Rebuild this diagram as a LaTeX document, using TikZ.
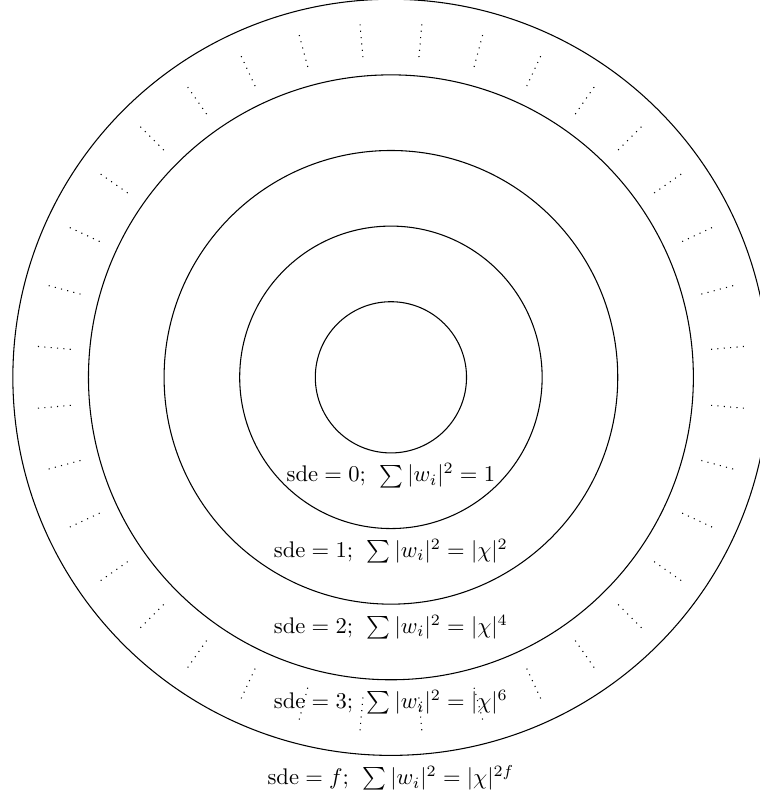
\documentclass[tikz,border=0pt]{standalone}
\usepackage{amsmath}
\usepackage{tikz}

\begin{document}
\begin{tikzpicture}[ring/.style={draw,line width=0.4pt},spoke/.style={dotted,line width=0.4pt},lbl/.style={inner sep=1pt,scale=0.85}]
\useasboundingbox (-5.17,-5.59) rectangle (4.88,4.99);
\foreach \r in {1,...,5} {
   \draw[ring] (0,0) circle (\r);
}
\foreach \a in {5,15,...,355} {
   \draw[spoke] (\a:4.25) -- (\a:4.7);
}
\foreach \y/\lv/\rhs in %
{1/0/1,2/1/|\chi|^2,3/2/|\chi|^4,4/3/|\chi|^6,5/f/|\chi|^{2f}} {
   \node[lbl] (sde\lv) at (0,-\y-0.3) {$\mathrm{sde}=\lv;\;\,\sum|w_i|^2=\rhs$};
}
\end{tikzpicture}
\end{document}
